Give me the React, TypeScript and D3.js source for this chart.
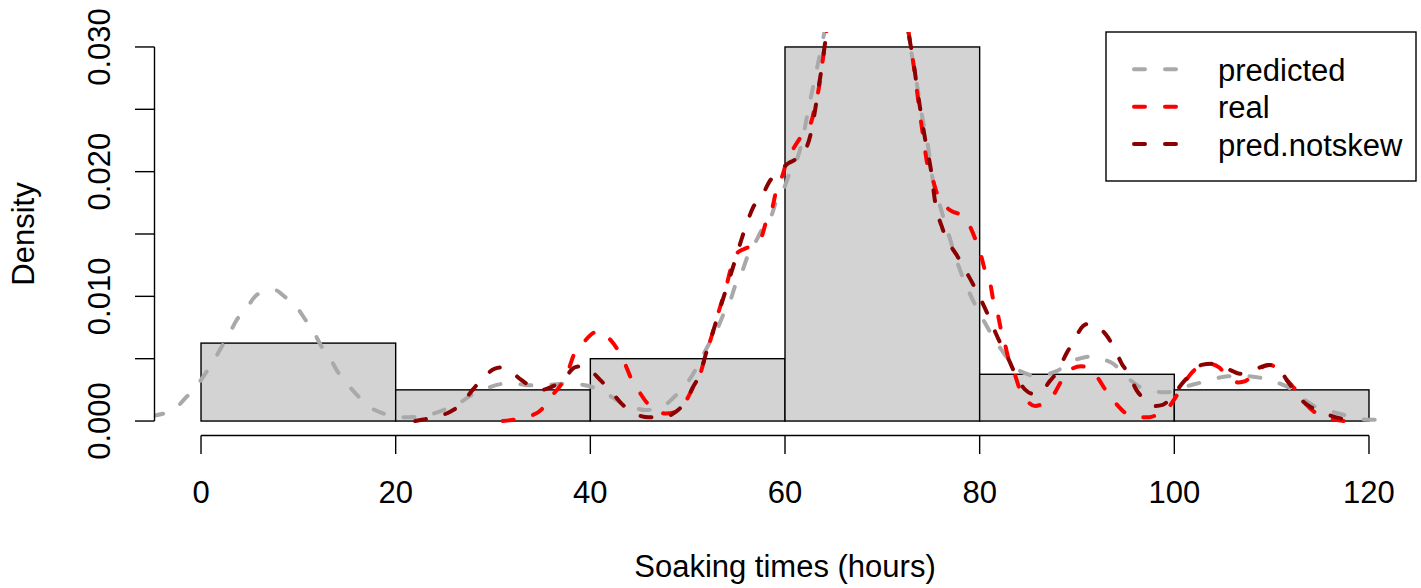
import React from "react";
import * as d3 from "d3";

// Histogram (bins of 20 hours), density scale
const binStarts = [0, 20, 40, 60, 80, 100];
const binWidth = 20;
const binDensity = [0.00625, 0.0025, 0.005, 0.03, 0.00375, 0.0025];

const xTicks = [0, 20, 40, 60, 80, 100, 120];
const yTicks = [0, 0.005, 0.01, 0.015, 0.02, 0.025, 0.03];
const yTickLabels = ["0.000", "", "0.010", "", "0.020", "", "0.030"];

// predicted (darkgray)
const predX = [-5, -4.14, -2.84, -1.47, -0.51, 0.51, 1.2, 2.12, 2.8, 3.66, 4.6, 5.7, 6.9, 7.6, 8.6, 9.66, 10.75, 11.5, 12.4, 13.2, 14.1, 15, 16.2, 17.2, 18.7, 19.9, 21, 22.2, 23.2, 24.9, 26.4, 27.8, 29, 30.9, 32.1, 33.2, 34.1, 35.3, 37.2, 38.5, 40.3, 41.5, 43.4, 44.4, 45.7, 46.5, 47.5, 48.9, 49.9, 50.8, 51.4, 52.2, 53, 53.7, 54.4, 54.9, 55.6, 56.2, 56.9, 57.7, 58.5, 59.1, 59.8, 60.5, 61.2, 61.8, 62.4, 63.1, 63.75, 64.3, 65.5, 67, 68.5, 70, 71.5, 72.5, 73.0, 73.6, 74.1, 74.7, 75.15, 75.95, 76.8, 77.8, 79.0, 80.45, 82.25, 83.8, 84.8, 85.7, 86.7, 87.9, 89.5, 90.7, 91.6, 92.5, 93.7, 95.3, 96.3, 97.8, 99.2, 100.2, 101.3, 102.3, 104.2, 105.5, 107.4, 108.6, 110.5, 111.7, 113.4, 114.6, 116.2, 117.4, 119.2, 120.6];
const predY = [0.0004, 0.00054, 0.00088, 0.00195, 0.00275, 0.00388, 0.00468, 0.00596, 0.00682, 0.0081, 0.00896, 0.0101, 0.01045, 0.0105, 0.00997, 0.0093, 0.0081, 0.00725, 0.00596, 0.0051, 0.00388, 0.003, 0.00195, 0.0012, 0.00062, 0.00035, 0.0003, 0.00033, 0.00046, 0.00088, 0.00136, 0.0021, 0.0025, 0.00297, 0.003, 0.0029, 0.00286, 0.00286, 0.003, 0.00297, 0.0027, 0.00227, 0.00136, 0.0011, 0.00088, 0.00094, 0.0012, 0.00215, 0.003, 0.0041, 0.005, 0.0062, 0.0073, 0.0086, 0.0097, 0.0109, 0.012, 0.0133, 0.01425, 0.01545, 0.01625, 0.0176, 0.0185, 0.0199, 0.0209, 0.0226, 0.025, 0.0276, 0.03, 0.0322, 0.036, 0.0385, 0.039, 0.038, 0.035, 0.0318, 0.0295, 0.0268, 0.0244, 0.022, 0.0195, 0.0172, 0.015, 0.0125, 0.0102, 0.008, 0.0057, 0.0042, 0.0038, 0.0036, 0.0037, 0.004, 0.0048, 0.0051, 0.0052, 0.005, 0.0046, 0.0034, 0.0028, 0.0024, 0.0023, 0.0025, 0.0028, 0.003, 0.0034, 0.0036, 0.0036, 0.0035, 0.0031, 0.0027, 0.0017, 0.0011, 0.00075, 0.0005, 0.00014, 0.0001];

// real (red)
const realX = [31, 31.9, 33.4, 35, 35.8, 37.2, 37.7, 38.3, 39.1, 40.4, 41, 41.7, 42.9, 43.5, 44.2, 44.9, 46, 47, 47.8, 48.8, 49.9, 50.6, 51.3, 51.8, 52.5, 53.2, 54, 54.5, 55, 55.8, 56.7, 57.6, 58.1, 58.7, 59.1, 59.7, 60.2, 60.9, 61.9, 62.7, 63.1, 63.5, 63.8, 64.2, 64.6, 66, 68, 70, 71.5, 72.4, 72.9, 73.4, 73.8, 74.2, 74.6, 75.1, 75.6, 76.4, 77.2, 77.9, 78.8, 79.6, 80.1, 80.5, 81.1, 81.4, 81.8, 82.2, 82.5, 83.0, 83.5, 84.1, 84.8, 85.7, 86.5, 87.5, 88.4, 89.3, 90.4, 91.2, 92, 93.1, 93.9, 95.3, 96.6, 97.4, 98.4, 99.5, 100.6, 101.6, 102.6, 103.5, 104.6, 105.4, 106.6, 107.3, 108.1, 109.3, 109.9, 110.7, 111.9, 112.9, 113.6, 115.3, 116.5, 117.5];
const realY = [0, 0.00008, 0.0003, 0.00094, 0.0018, 0.0032, 0.004, 0.0053, 0.0061, 0.0071, 0.0072, 0.0068, 0.0056, 0.0047, 0.0034, 0.0025, 0.0013, 0.00075, 0.0006, 0.00075, 0.0017, 0.0028, 0.0038, 0.0052, 0.0069, 0.0088, 0.0109, 0.0124, 0.0134, 0.0138, 0.0141, 0.0148, 0.0161, 0.0171, 0.0185, 0.0196, 0.0209, 0.0219, 0.0231, 0.024, 0.0253, 0.0268, 0.0285, 0.0308, 0.033, 0.037, 0.039, 0.038, 0.035, 0.0325, 0.0302, 0.0275, 0.025, 0.0228, 0.0207, 0.0196, 0.0183, 0.0173, 0.0168, 0.0166, 0.0159, 0.0145, 0.0134, 0.0122, 0.011, 0.0097, 0.0088, 0.0073, 0.0065, 0.0049, 0.004, 0.0026, 0.0017, 0.0012, 0.0014, 0.002, 0.0032, 0.0041, 0.0044, 0.0042, 0.0036, 0.0023, 0.0015, 0.0005, 0.0003, 0.0003, 0.0006, 0.0012, 0.0025, 0.0037, 0.0044, 0.0046, 0.0043, 0.0036, 0.0031, 0.0032, 0.0038, 0.0044, 0.0045, 0.004, 0.003, 0.0021, 0.0013, 0.00035, 0.0001, 0];

// pred.notskew (darkred)
const notskewX = [22, 22.7, 24, 25.6, 26.8, 27.9, 28.8, 30.2, 30.9, 31.6, 32.9, 34.1, 35, 35.9, 37.2, 38.4, 39.1, 39.8, 41, 42, 43.2, 44.2, 45.2, 46.0, 47.3, 48.8, 49.9, 50.6, 51.3, 51.8, 52.5, 53.2, 54, 54.8, 55.5, 56.1, 56.7, 57.6, 58.4, 59.5, 60.4, 60.9, 61.9, 62.6, 63.0, 63.4, 63.8, 64.2, 64.6, 66, 68, 70, 71.5, 72.4, 72.8, 73.2, 73.5, 73.9, 74.4, 75.0, 75.4, 76.2, 77.8, 79.3, 80.75, 81.85, 83.0, 83.7, 84.7, 85.4, 86.1, 87.2, 88.1, 88.9, 89.6, 90.6, 91.2, 91.8, 93.1, 93.8, 94.6, 95.3, 96.1, 97, 97.9, 98.8, 99.8, 100.9, 101.9, 102.8, 103.8, 104.9, 106.0, 106.7, 107.9, 108.8, 109.6, 110.2, 110.8, 111.2, 111.9, 112.6, 113.1, 114.3, 115.5, 117.1, 118.2, 119];
const notskewY = [0, 0.0001, 0.0003, 0.00075, 0.0014, 0.0025, 0.0033, 0.0042, 0.0043, 0.0041, 0.0033, 0.0027, 0.0025, 0.0027, 0.0033, 0.0043, 0.0044, 0.0042, 0.0033, 0.0025, 0.0014, 0.00075, 0.0004, 0.0003, 0.0003, 0.00075, 0.0017, 0.0028, 0.0038, 0.0052, 0.0069, 0.0087, 0.0107, 0.0127, 0.0145, 0.0159, 0.0171, 0.018, 0.0192, 0.0201, 0.0207, 0.0209, 0.0215, 0.0229, 0.0245, 0.0265, 0.0285, 0.0308, 0.033, 0.037, 0.039, 0.038, 0.035, 0.0325, 0.0306, 0.0288, 0.0271, 0.025, 0.0226, 0.0201, 0.0177, 0.0154, 0.0131, 0.011, 0.0087, 0.0067, 0.0049, 0.0037, 0.0025, 0.0022, 0.0022, 0.0032, 0.0041, 0.0054, 0.0063, 0.0076, 0.0078, 0.0077, 0.0068, 0.0059, 0.0046, 0.0038, 0.0025, 0.0017, 0.0012, 0.0013, 0.002, 0.0031, 0.0039, 0.0045, 0.0046, 0.0044, 0.004, 0.0038, 0.004, 0.0043, 0.0045, 0.0045, 0.0041, 0.0037, 0.0029, 0.0023, 0.0017, 0.001, 0.0006, 0.0002, 0.0001, 0];

const seriesNames = ["predicted", "real", "pred.notskew"];
const seriesColors = ["#A9A9A9", "#FF0000", "#8B0000"];

const FONT = "'Liberation Sans', Arial, Helvetica, sans-serif";
const FS = 31;

export default function App() {
  const W = 1421;
  const H = 588;
  const x = d3.scaleLinear().domain([-4.8, 124.8]).range([154.3, 1415.7]);
  const y = d3.scaleLinear().domain([-0.0012, 0.0312]).range([436, 32]);
  const clip = { x0: x(-4.8), x1: x(124.8), y0: y(0.0312), y1: y(-0.0012) };

  const line = d3
    .line<[number, number]>()
    .x((d) => x(d[0]))
    .y((d) => y(d[1]))
    .curve(d3.curveMonotoneX);

  const series = [
    predX.map((v, i) => [v, predY[i]] as [number, number]),
    realX.map((v, i) => [v, realY[i]] as [number, number]),
    notskewX.map((v, i) => [v, notskewY[i]] as [number, number]),
  ];

  const dash = "11 20";
  const lw = 4;
  const axisW = 1.4;

  const legX = 1106, legY = 32, legW = 310, legH = 149;
  const legRows = [69.3, 106.7, 144];

  return (
    <svg width={W} height={H} style={{ position: "absolute", left: 0, top: 0, background: "#fff" }}>
      <defs>
        <clipPath id="plotclip">
          <rect x={clip.x0} y={clip.y0} width={clip.x1 - clip.x0} height={clip.y1 - clip.y0} />
        </clipPath>
      </defs>
      <rect x={0} y={0} width={W} height={H} fill="#fff" />
      {/* bars */}
      {binStarts.map((b, i) => (
        <rect
          key={i}
          x={x(b)}
          y={y(binDensity[i])}
          width={x(b + binWidth) - x(b)}
          height={y(0) - y(binDensity[i])}
          fill="#D3D3D3"
          stroke="#000"
          strokeWidth={axisW}
        />
      ))}
      {/* density lines */}
      <g clipPath="url(#plotclip)">
        {series.map((s, i) => (
          <path
            key={i}
            d={line(s) || ""}
            fill="none"
            stroke={seriesColors[i]}
            strokeWidth={lw}
            strokeDasharray={dash}
            strokeLinecap="round"
            strokeLinejoin="round"
          />
        ))}
      </g>
      {/* x axis */}
      <line x1={x(0)} x2={x(120)} y1={435.5} y2={435.5} stroke="#000" strokeWidth={axisW} />
      {xTicks.map((t) => (
        <g key={t}>
          <line x1={x(t)} x2={x(t)} y1={435.5} y2={454} stroke="#000" strokeWidth={axisW} />
          <text x={x(t)} y={503} textAnchor="middle" fontFamily={FONT} fontSize={FS} fill="#000">
            {String(t)}
          </text>
        </g>
      ))}
      {/* y axis */}
      <line x1={154.5} x2={154.5} y1={y(0)} y2={y(0.03)} stroke="#000" strokeWidth={axisW} />
      {yTicks.map((t, i) => (
        <g key={i}>
          <line x1={135} x2={154.5} y1={y(t)} y2={y(t)} stroke="#000" strokeWidth={axisW} />
          {yTickLabels[i] !== "" && (
            <text
              transform={`translate(110,${y(t)}) rotate(-90)`}
              textAnchor="middle"
              fontFamily={FONT}
              fontSize={FS}
              fill="#000"
            >
              {yTickLabels[i]}
            </text>
          )}
        </g>
      ))}
      {/* axis titles */}
      <text x={x(60)} y={577} textAnchor="middle" fontFamily={FONT} fontSize={FS} fill="#000">
        Soaking times (hours)
      </text>
      <text
        transform={`translate(34,${(clip.y0 + clip.y1) / 2}) rotate(-90)`}
        textAnchor="middle"
        fontFamily={FONT}
        fontSize={FS}
        fill="#000"
      >
        Density
      </text>
      {/* legend */}
      <rect x={legX} y={legY} width={legW} height={legH} fill="#fff" stroke="#000" strokeWidth={axisW} />
      {seriesNames.map((n, i) => (
        <g key={n}>
          <line
            x1={1134}
            x2={1177}
            y1={legRows[i]}
            y2={legRows[i]}
            stroke={seriesColors[i]}
            strokeWidth={lw}
            strokeDasharray={dash}
            strokeLinecap="round"
          />
          <text x={1218} y={legRows[i] + 11.5} fontFamily={FONT} fontSize={FS} fill="#000">
            {n}
          </text>
        </g>
      ))}
    </svg>
  );
}
